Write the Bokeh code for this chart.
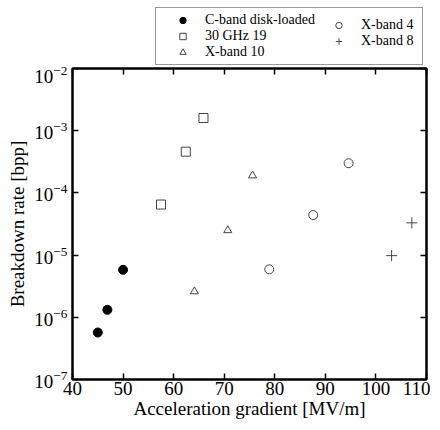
from bokeh.plotting import figure
from bokeh.layouts import column
from bokeh.models import (LogAxis, LinearAxis, Legend, LegendItem, FixedTicker,
                          CustomJSTickFormatter)
from bokeh.embed import file_html
from bokeh.resources import INLINE

# Data
cband_x = [45.0, 46.9, 50.0]
cband_y = [5.7e-7, 1.32e-6, 5.8e-6]
ghz30_x = [57.5, 62.4, 65.9]
ghz30_y = [6.5e-5, 4.6e-4, 1.6e-3]
xb10_x = [64.1, 70.7, 75.6]
xb10_y = [2.6e-6, 2.5e-5, 1.9e-4]
xb4_x = [78.9, 87.6, 94.6]
xb4_y = [5.9e-6, 4.4e-5, 3.0e-4]
xb8_x = [103.1, 107.1]
xb8_y = [9.8e-6, 3.3e-5]

series_labels = ["C-band disk-loaded", "30 GHz 19", "X-band 10", "X-band 4", "X-band 8"]
x_ticks = [40, 50, 60, 70, 80, 90, 100, 110]
y_ticks = [1e-7, 1e-6, 1e-5, 1e-4, 1e-3, 1e-2]

FONT = "Liberation Serif"
GRAY = "#444444"

styles = [
    dict(marker="circle", size=9, fill_color="black", line_color="black"),
    dict(marker="square", size=9, fill_color=None, line_color=GRAY, line_width=1),
    dict(marker="triangle", size=8, fill_color=None, line_color=GRAY, line_width=1),
    dict(marker="circle", size=9, fill_color=None, line_color=GRAY, line_width=1),
    dict(marker="cross", size=11, line_color=GRAY, line_width=1),
]
series = [(cband_x, cband_y), (ghz30_x, ghz30_y), (xb10_x, xb10_y),
          (xb4_x, xb4_y), (xb8_x, xb8_y)]

# ---- main plot ----
p = figure(width=430, height=356, x_range=(40, 110), y_range=(1e-7, 1e-2),
           y_axis_type="log", output_backend="svg", toolbar_location=None,
           min_border_left=72, min_border_right=4, min_border_top=2,
           min_border_bottom=43)
p.xgrid.visible = False
p.ygrid.visible = False
p.outline_line_color = "black"
p.outline_line_width = 2

for (xs, ys), st in zip(series, styles):
    p.scatter(xs, ys, **st)

def style_axis(ax, labels=True):
    ax.major_tick_in = 6
    ax.major_tick_out = 0
    ax.minor_tick_line_color = None
    ax.major_tick_line_width = 1.5
    ax.axis_line_width = 2
    ax.major_tick_line_color = "black"
    ax.axis_line_color = "black"
    if labels:
        ax.major_label_text_font = FONT
        ax.major_label_text_font_size = "19px"
        ax.major_label_text_color = "black"
        ax.axis_label_text_font = FONT
        ax.axis_label_text_font_size = "19px"
        ax.axis_label_text_font_style = "normal"
        ax.axis_label_text_color = "black"
    else:
        ax.formatter = CustomJSTickFormatter(code="return ''")
        ax.major_label_text_font_size = "1px"
        ax.major_label_standoff = 0

xa = p.xaxis[0]
xa.ticker = FixedTicker(ticks=x_ticks)
xa.axis_label = "Acceleration gradient [MV/m]"
xa.major_label_standoff = 2
xa.axis_label_standoff = 0
style_axis(xa)

ya = p.yaxis[0]
ya.ticker = FixedTicker(ticks=y_ticks)
ya.axis_label = "Breakdown rate [bpp]"
ya.major_label_standoff = 5
ya.axis_label_standoff = 3
style_axis(ya)

top = LinearAxis(ticker=FixedTicker(ticks=x_ticks))
style_axis(top, labels=False)
p.add_layout(top, "above")
right = LogAxis(ticker=FixedTicker(ticks=y_ticks))
style_axis(right, labels=False)
p.add_layout(right, "right")

# ---- legend strip above the plot (proxy glyphs lie outside its view) ----
lf = figure(width=430, height=66, x_range=(0, 1), y_range=(0, 1),
            output_backend="svg", toolbar_location=None,
            x_axis_location=None, y_axis_location=None, min_border=0)
lf.xgrid.visible = False
lf.ygrid.visible = False
lf.outline_line_color = None

proxies = [lf.scatter(x=xs[:1], y=ys[:1], **st) for (xs, ys), st in zip(series, styles)]
items = [LegendItem(label=lab, renderers=[r]) for lab, r in zip(series_labels, proxies)]

def make_legend(its, loc, border):
    lg = Legend(items=its, location=loc)
    lg.label_text_font = FONT
    lg.label_text_font_size = "14px"
    lg.label_text_color = "black"
    lg.glyph_width = 45
    lg.glyph_height = 16
    lg.label_height = 16
    lg.spacing = 0
    lg.padding = 4
    lg.margin = 0
    lg.label_standoff = 0
    if border:
        lg.label_width = 213
        lg.border_line_color = "#333333"
        lg.border_line_width = 1.5
        lg.background_fill_color = "white"
        lg.background_fill_alpha = 1
    else:
        lg.border_line_color = None
        lg.background_fill_alpha = 0
    return lg

lf.add_layout(make_legend(items[:3], (83, 1), True), "center")
lf.add_layout(make_legend(items[3:], (244, 17), False), "center")

layout = column(lf, p, spacing=0)
open("out.html", "w").write(file_html(layout, INLINE))
